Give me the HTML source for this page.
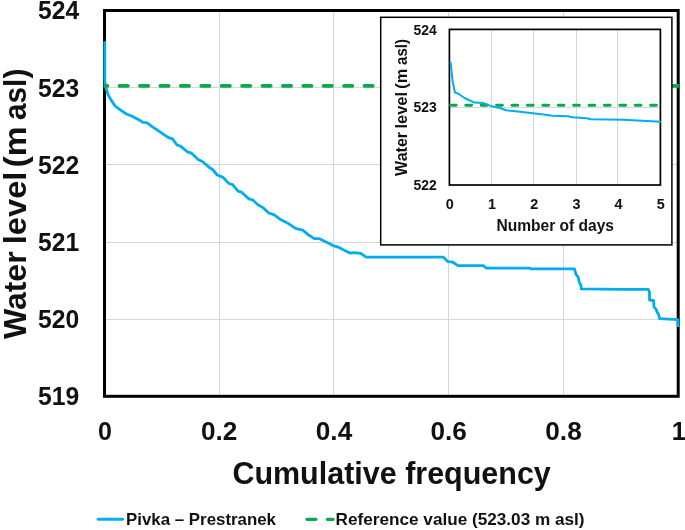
<!DOCTYPE html>
<html lang="en"><head><meta charset="utf-8"><title>Cumulative frequency of water level</title>
<style>
html,body{margin:0;padding:0;background:#fff;}
body{width:685px;height:530px;overflow:hidden;}
svg{display:block;will-change:transform;}
text{font-family:"Liberation Sans",sans-serif;font-weight:bold;fill:#111;}
</style></head><body>
<svg width="685" height="530" viewBox="0 0 685 530">
<rect width="685" height="530" fill="#fff"/>
<g stroke="#d7d7d7" stroke-width="1" fill="none">
<line x1="219.5" y1="10.5" x2="219.5" y2="396.3"/>
<line x1="333.5" y1="10.5" x2="333.5" y2="396.3"/>
<line x1="448.5" y1="10.5" x2="448.5" y2="396.3"/>
<line x1="563.5" y1="10.5" x2="563.5" y2="396.3"/>
<line x1="104.5" y1="87.5" x2="678.2" y2="87.5"/>
<line x1="104.5" y1="164.5" x2="678.2" y2="164.5"/>
<line x1="104.5" y1="242.5" x2="678.2" y2="242.5"/>
<line x1="104.5" y1="319.5" x2="678.2" y2="319.5"/>
</g>
<rect x="104.5" y="10.5" width="573.7" height="385.8" fill="none" stroke="#000" stroke-width="3"/>
<clipPath id="cp"><rect x="103.5" y="0" width="575.7" height="400"/></clipPath>
<polyline points="104.8,41.3 104.8,80.0 105.2,84.5 106.0,88.0 108.3,95.1 111.3,100.4 115.1,106.0 119.6,109.4 126.4,114.0 131.7,116.0 137.8,119.3 143.0,122.3 146.8,122.7 152.9,127.1 160.4,132.1 168.0,137.4 172.5,138.9 177.0,145.0 180.5,146.1 187.3,151.8 191.5,153.2 198.1,159.5 202.7,161.7 209.0,167.2 212.6,169.5 217.2,175.0 222.6,177.1 228.9,183.5 232.6,184.7 238.0,191.1 241.6,192.2 248.9,198.9 252.5,199.8 257.9,204.7 263.4,207.9 268.8,213.0 274.3,214.8 281.0,219.8 287.8,223.2 295.5,228.3 302.7,230.2 309.0,235.3 314.4,238.6 319.0,238.6 327.1,242.6 332.6,245.3 338.0,247.1 344.3,250.2 349.8,253.1 354.3,252.7 360.7,253.4 366.1,257.1 399.6,257.1 443.5,257.2 448.0,261.7 452.5,262.0 458.0,265.7 483.3,265.7 486.1,268.0 529.9,268.1 530.8,268.8 574.3,268.8 576.1,274.4 578.3,277.5 579.4,282.6 581.0,285.3 581.2,288.9 619.6,289.3 648.3,289.4 649.5,292.5 649.5,300.0 653.6,300.5 654.0,306.8 655.9,309.1 657.1,312.1 658.6,314.3 659.6,318.6 677.7,319.6 678.2,327.2" fill="none" stroke="#00aeef" stroke-width="2.8" stroke-linejoin="round" stroke-linecap="butt"/>
<line clip-path="url(#cp)" x1="99.1" y1="85.9" x2="690" y2="85.9" stroke="#08aa4c" stroke-width="3.6" stroke-linecap="round" stroke-dasharray="8.4 12.01"/>
<rect x="380.7" y="17.3" width="291.2" height="227.6" fill="#fff" stroke="#000" stroke-width="1.5"/>
<g stroke="#d7d7d7" stroke-width="1" fill="none">
<line x1="491.5" y1="29.4" x2="491.5" y2="185.0"/>
<line x1="533.5" y1="29.4" x2="533.5" y2="185.0"/>
<line x1="576.5" y1="29.4" x2="576.5" y2="185.0"/>
<line x1="617.5" y1="29.4" x2="617.5" y2="185.0"/>
<line x1="449.4" y1="107.5" x2="660.4" y2="107.5"/>
</g>
<rect x="449.4" y="29.4" width="211.0" height="155.6" fill="none" stroke="#000" stroke-width="1.7"/>
<line x1="450.4" y1="105.3" x2="659.4" y2="105.3" stroke="#08aa4c" stroke-width="2.9" stroke-linecap="round" stroke-dasharray="5.8 9.6"/>
<polyline points="450.5,61.8 452.7,81.7 455.0,92.6 458.1,93.5 464.5,98.0 474.4,102.6 483.5,103.1 492.6,106.6 499.8,108.0 506.2,110.2 517.9,111.6 530.6,112.9 541.5,114.3 552.4,115.8 568.4,116.3 572.4,117.3 586.7,118.3 590.8,119.3 623.4,119.7 641.8,120.8 661.1,121.8" fill="none" stroke="#00aeef" stroke-width="2" stroke-linejoin="round"/>
<g>
<text x="38.0" y="19.3" font-size="25" text-anchor="start" textLength="41.2" lengthAdjust="spacingAndGlyphs">524</text>
<text x="38.0" y="96.5" font-size="25" text-anchor="start" textLength="41.2" lengthAdjust="spacingAndGlyphs">523</text>
<text x="38.0" y="173.6" font-size="25" text-anchor="start" textLength="41.2" lengthAdjust="spacingAndGlyphs">522</text>
<text x="38.0" y="250.8" font-size="25" text-anchor="start" textLength="41.2" lengthAdjust="spacingAndGlyphs">521</text>
<text x="38.0" y="327.9" font-size="25" text-anchor="start" textLength="41.2" lengthAdjust="spacingAndGlyphs">520</text>
<text x="38.0" y="405.1" font-size="25" text-anchor="start" textLength="41.2" lengthAdjust="spacingAndGlyphs">519</text>
<text x="105.0" y="440.1" font-size="25" text-anchor="middle">0</text>
<text x="201.0" y="440.1" font-size="25" text-anchor="start" textLength="36.4" lengthAdjust="spacingAndGlyphs">0.2</text>
<text x="315.8" y="440.1" font-size="25" text-anchor="start" textLength="36.4" lengthAdjust="spacingAndGlyphs">0.4</text>
<text x="430.5" y="440.1" font-size="25" text-anchor="start" textLength="36.4" lengthAdjust="spacingAndGlyphs">0.6</text>
<text x="545.3" y="440.1" font-size="25" text-anchor="start" textLength="36.4" lengthAdjust="spacingAndGlyphs">0.8</text>
<text x="678.7" y="440.1" font-size="25" text-anchor="middle">1</text>
<text x="232.4" y="483.5" font-size="31.5" text-anchor="start" textLength="318.4" lengthAdjust="spacingAndGlyphs">Cumulative frequency</text>
<text x="26.4" y="339.0" font-size="31.5" text-anchor="start" textLength="87.6" lengthAdjust="spacingAndGlyphs" transform="rotate(-90 26.4 339.0)">Water</text>
<text x="26.4" y="244.2" font-size="31.5" text-anchor="start" textLength="72.6" lengthAdjust="spacingAndGlyphs" transform="rotate(-90 26.4 244.2)">level</text>
<text x="26.4" y="167.4" font-size="31.5" text-anchor="start" textLength="41.0" lengthAdjust="spacingAndGlyphs" transform="rotate(-90 26.4 167.4)">(m</text>
<text x="26.4" y="120.0" font-size="31.5" text-anchor="start" textLength="51.3" lengthAdjust="spacingAndGlyphs" transform="rotate(-90 26.4 120.0)">asl)</text>
<line x1="98.2" y1="519.3" x2="122.6" y2="519.3" stroke="#00aeef" stroke-width="2.9" stroke-linecap="round"/>
<text x="126" y="524.9" font-size="17.3" text-anchor="start" textLength="150" lengthAdjust="spacingAndGlyphs">Pivka – Prestranek</text>
<line x1="307" y1="519.3" x2="315.9" y2="519.3" stroke="#08aa4c" stroke-width="3.2" stroke-linecap="round"/>
<line x1="327.4" y1="519.3" x2="333" y2="519.3" stroke="#08aa4c" stroke-width="3.2" stroke-linecap="round"/>
<text x="335.6" y="524.9" font-size="17.3" text-anchor="start" textLength="249" lengthAdjust="spacingAndGlyphs">Reference value (523.03 m asl)</text>
<text x="413.6" y="34.5" font-size="14.2" text-anchor="start" textLength="23.2" lengthAdjust="spacingAndGlyphs">524</text>
<text x="413.6" y="112.3" font-size="14.2" text-anchor="start" textLength="23.2" lengthAdjust="spacingAndGlyphs">523</text>
<text x="413.6" y="190.1" font-size="14.2" text-anchor="start" textLength="23.2" lengthAdjust="spacingAndGlyphs">522</text>
<text x="449.8" y="209.3" font-size="14.4" text-anchor="middle">0</text>
<text x="492.0" y="209.3" font-size="14.4" text-anchor="middle">1</text>
<text x="534.2" y="209.3" font-size="14.4" text-anchor="middle">2</text>
<text x="576.4" y="209.3" font-size="14.4" text-anchor="middle">3</text>
<text x="618.6" y="209.3" font-size="14.4" text-anchor="middle">4</text>
<text x="660.8" y="209.3" font-size="14.4" text-anchor="middle">5</text>
<text x="496.4" y="231.3" font-size="16.4" text-anchor="start" textLength="117.6" lengthAdjust="spacingAndGlyphs">Number of days</text>
<text x="407.3" y="175.9" font-size="16.6" text-anchor="start" textLength="44.0" lengthAdjust="spacingAndGlyphs" transform="rotate(-90 407.3 175.9)">Water</text>
<text x="407.3" y="128.6" font-size="16.6" text-anchor="start" textLength="36.7" lengthAdjust="spacingAndGlyphs" transform="rotate(-90 407.3 128.6)">level</text>
<text x="407.3" y="88.8" font-size="16.6" text-anchor="start" textLength="20.0" lengthAdjust="spacingAndGlyphs" transform="rotate(-90 407.3 88.8)">(m</text>
<text x="407.3" y="64.9" font-size="16.6" text-anchor="start" textLength="25.9" lengthAdjust="spacingAndGlyphs" transform="rotate(-90 407.3 64.9)">asl)</text>
</g>
</svg></body></html>
